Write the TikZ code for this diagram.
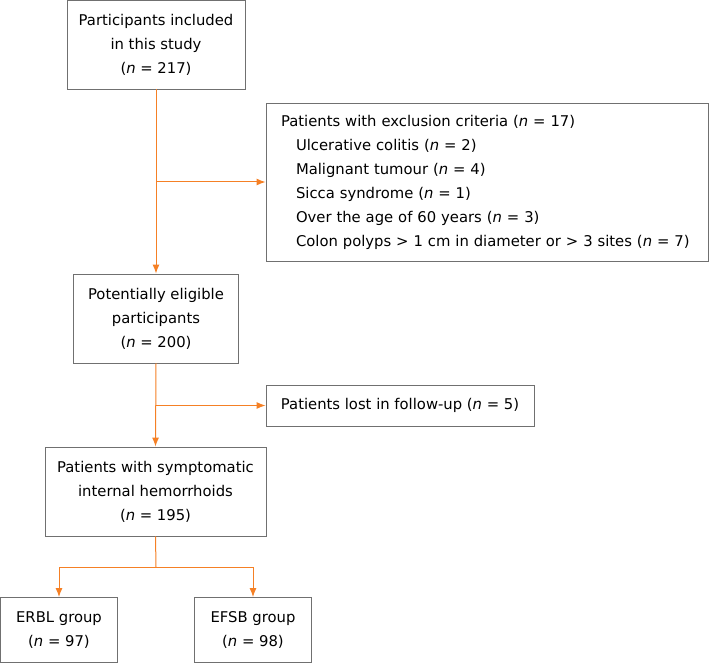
\documentclass[tikz,border=0pt]{standalone}
\usepackage{fontspec}
\setmainfont{DejaVu Sans}
\usetikzlibrary{arrows.meta}
\definecolor{flow}{RGB}{245,128,37}
\definecolor{frame}{RGB}{112,112,112}

\begin{document}
\begin{tikzpicture}[x=1pt,y=-1pt,
    box/.style={draw=frame,line width=0.9pt,align=center,inner sep=0pt,
      font=\fontsize{14.8}{24}\selectfont},
    flowline/.style={draw=flow,line width=1pt},
    flowarrow/.style={flowline,-{Latex[length=9pt,width=7pt]}}]
      \useasboundingbox (0,0) rectangle (709,663);
      % boxes of the main column
      \node[box,minimum width=178,minimum height=89] (included) at (156,44.5) {Participants included\\in this study\\(\textit{n} = 217)};
      \node[box,minimum width=165,minimum height=89] (eligible) at (156,318.5) {Potentially eligible\\participants\\(\textit{n} = 200)};
      \node[box,minimum width=221,minimum height=89] (symptomatic) at (155.5,491.5) {Patients with symptomatic\\internal hemorrhoids\\(\textit{n} = 195)};
      \node[box,minimum width=117,minimum height=65] (erbl) at (59,630) {ERBL group\\(\textit{n} = 97)};
      \node[box,minimum width=117,minimum height=65] (efsb) at (253,630) {EFSB group\\(\textit{n} = 98)};
      % side boxes
      \node[box,align=left,text width=412,inner xsep=15,minimum height=158] (excluded) at (487,182) {Patients with exclusion criteria (\textit{n} = 17)\\
        \hspace*{15pt}Ulcerative colitis (\textit{n} = 2)\\
        \hspace*{15pt}Malignant tumour (\textit{n} = 4)\\
        \hspace*{15pt}Sicca syndrome (\textit{n} = 1)\\
        \hspace*{15pt}Over the age of 60 years (\textit{n} = 3)\\
        \hspace*{15pt}Colon polyps > 1 cm in diameter or > 3 sites (\textit{n} = 7)};
      \node[box,minimum width=268,minimum height=41] (lost) at (400,405.5) {Patients lost in follow-up (\textit{n} = 5)};
      % connectors
      \coordinate (exjoint) at (included.south |- excluded.west);
      \coordinate (lostjoint) at (eligible.south |- lost.west);
      \coordinate (split) at (156,567);
      \draw[flowarrow] (included.south) -- (eligible.north);
      \draw[flowarrow] (exjoint) -- (excluded.west);
      \draw[flowarrow] (eligible.south) -- (symptomatic.north);
      \draw[flowarrow] (lostjoint) -- (lost.west);
      \draw[flowline] (symptomatic.south) -- (split);
      \draw[flowarrow] (split) -| (erbl.north);
      \draw[flowarrow] (split) -| (efsb.north);
\end{tikzpicture}
\end{document}
